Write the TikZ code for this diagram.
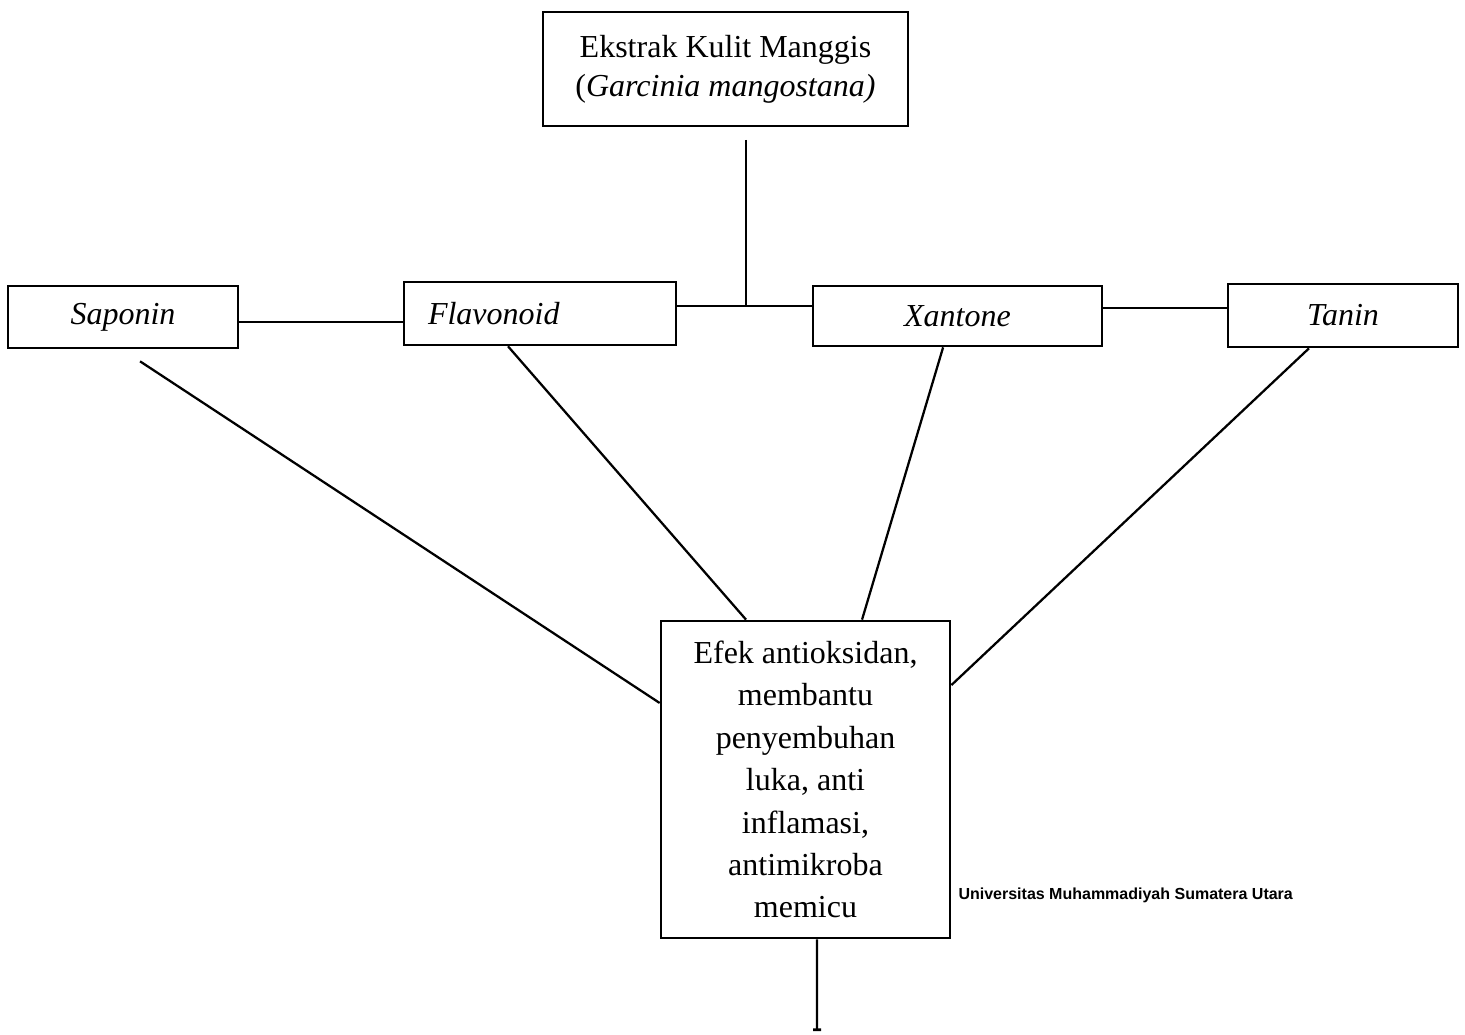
\documentclass[tikz,border=0pt]{standalone}
\usepackage{fontspec}
\setmainfont{Liberation Serif}
\newfontfamily\umsufont{Liberation Sans}
\usepackage{tikz}
\usetikzlibrary{arrows.meta}
\tikzset{box node/.style={draw,line width=1pt,inner sep=0pt,align=center,font=\fontsize{12}{14}\selectfont},
  herb node/.style={box node,font=\fontsize{12}{14}\selectfont\itshape},}
\newcommand{\edg}[2]{\path[draw, line width=0.85pt] (#1) -- (#2);}

\begin{document}
\begin{tikzpicture}[x=0.375pt,y=-0.375pt]
        \useasboundingbox (0,0) rectangle (1465,1034);

        \node[box node, minimum width=136.9pt, minimum height=42.75pt, font=\fontsize{12}{14.5}\selectfont] (ekstrak) at (725.5,69) {Ekstrak Kulit Manggis\\(\textit{Garcinia mangostana)}};
        \node[herb node, minimum width=86.25pt, minimum height=23.25pt] (saponin) at (123,317) {Saponin};
        \node[herb node, text width=84pt, align=left, inner xsep=9pt, minimum height=23.6pt] (flavonoid) at (540,313.5) {Flavonoid};
        \node[herb node, minimum width=108.4pt, minimum height=22.5pt] (xantone) at (957.5,316) {Xantone};
        \node[herb node, minimum width=86.25pt, minimum height=23.6pt] (tanin) at (1343,315.5) {Tanin};
        \node[box node, minimum width=108.4pt, minimum height=118.9pt, font=\fontsize{12}{15.9}\selectfont] (efek) at (805.5,779.5) {Efek antioksidan,\\membantu\\penyembuhan\\luka, anti\\inflamasi,\\antimikroba\\memicu};
        \node[anchor=west, inner sep=0pt, font=\umsufont\bfseries\fontsize{6}{7}\selectfont] (umsu) at (958,895) {Universitas Muhammadiyah Sumatera Utara};

        \coordinate (stem) at (746,140);
        \coordinate (junction) at (746,306);
        \coordinate (exit) at (817,1031);

        \edg{stem}{junction}
        \edg{flavonoid.east |- junction}{xantone.west |- junction}
        \edg{[yshift=-1.9pt]saponin.east}{[yshift=-1.9pt]saponin.east -| flavonoid.west}
        \edg{[yshift=3pt]xantone.east}{[yshift=3pt]xantone.east -| tanin.west}

        \edg{[xshift=6.4pt,yshift=-4.5pt]saponin.south}{[yshift=28.7pt]efek.west}
        \edg{[xshift=-12pt]flavonoid.south}{[xshift=-22.3pt]efek.north}
        \edg{[xshift=-5.4pt]xantone.south}{[xshift=21.2pt]efek.north}
        \edg{[xshift=-12.75pt]tanin.south}{[yshift=35.4pt]efek.east}

        \path[draw, line width=0.85pt, -{Bar[width=3pt,line width=1pt]}] ([xshift=4.3pt]efek.south) -- (exit);
    \end{tikzpicture}
\end{document}
